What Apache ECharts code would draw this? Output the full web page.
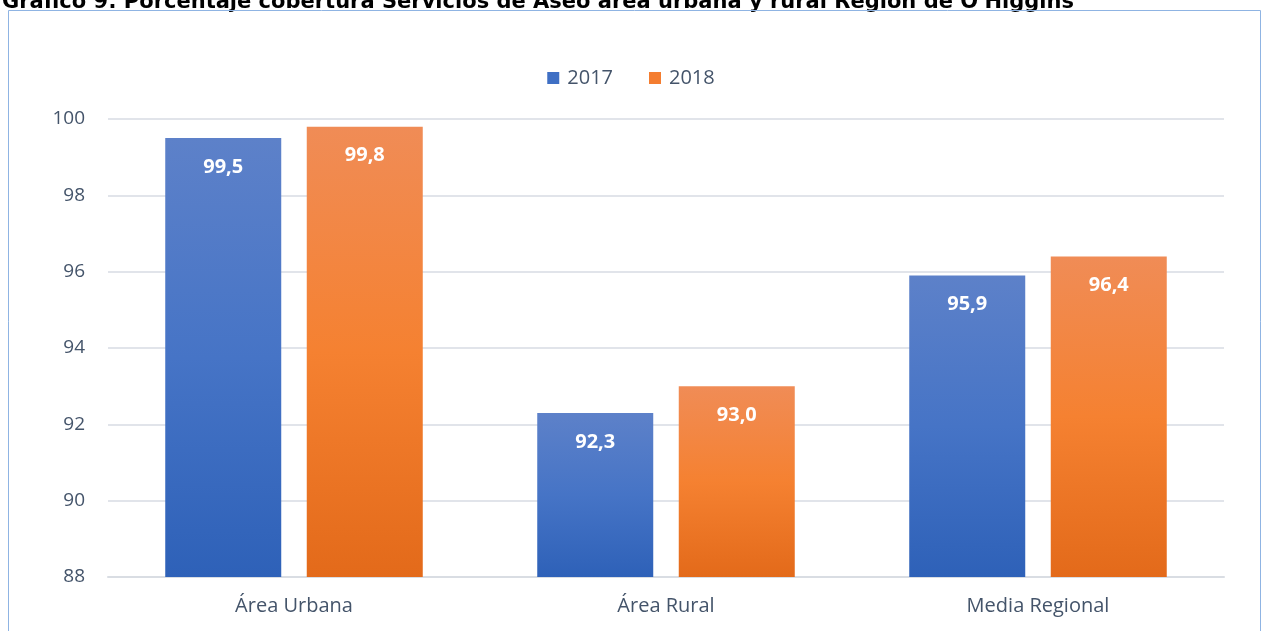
<!DOCTYPE html>
<html>
<head>
<meta charset="utf-8">
<script src="https://cdn.jsdelivr.net/npm/echarts@6/dist/echarts.min.js"></script>
<style>
  html, body { margin: 0; padding: 0; background: #fff; }
  #main { width: 1262px; height: 631px; }
</style>
</head>
<body>
<div id="main"></div>
<script>
    var categories = ['Área Urbana', 'Área Rural', 'Media Regional'];
    var values2017 = [99.5, 92.3, 95.9];
    var values2018 = [99.8, 93.0, 96.4];
    var yTicks = [88, 90, 92, 94, 96, 98, 100];

    var fontMain = '"Open Sans", "Noto Sans", sans-serif';

    function grad(top, mid, bottom) {
        return new echarts.graphic.LinearGradient(0, 0, 0, 1, [
            { offset: 0, color: top },
            { offset: 0.5, color: mid },
            { offset: 1, color: bottom }
        ]);
    }

    // etiquetas con coma decimal
    var labelStyle = {
        show: true,
        position: 'insideTop',
        distance: 19,
        color: '#fff',
        fontWeight: 'bold',
        fontSize: 20,
        fontFamily: fontMain,
        formatter: function (p) { return p.value.toFixed(1).replace('.', ','); }
    };

    var option = {
        animation: false,
        backgroundColor: '#fff',
        title: {
            text: "Gráfico 9: Porcentaje cobertura Servicios de Aseo área urbana y rural Región de O'Higgins",
            left: -3,
            top: -13,
            textStyle: {
                fontFamily: '"DejaVu Sans", Verdana, sans-serif',
                fontWeight: 'bold',
                fontSize: 21,
                color: '#000'
            }
        },
        graphic: [{
            type: 'rect',
            shape: { x: 8.5, y: 10.5, width: 1252, height: 640 },
            style: { fill: 'none', stroke: '#8fb4e3', lineWidth: 1 },
            z: 100
        }],
        legend: {
            top: 63,
            left: 'center',
            itemWidth: 12,
            itemHeight: 12,
            itemGap: 36,
            icon: 'rect',
            textStyle: { fontSize: 20, color: '#44546a', fontFamily: fontMain, padding: [0, 0, 0, 3] },
            data: [
                { name: '2017', itemStyle: { color: '#3f6fc4' } },
                { name: '2018', itemStyle: { color: '#f47d30' } }
            ]
        },
        grid: { left: 108, right: 38, top: 119, bottom: 54 },
        xAxis: {
            type: 'category',
            data: categories,
            axisLine: { lineStyle: { color: '#d9dde3', width: 2 } },
            axisTick: { show: false },
            axisLabel: { fontSize: 20, color: '#44546a', fontFamily: fontMain, margin: 19 }
        },
        yAxis: {
            type: 'value',
            min: yTicks[0],
            max: yTicks[yTicks.length - 1],
            interval: 2,
            axisLine: { show: false },
            axisTick: { show: false },
            splitLine: { lineStyle: { color: '#e1e4ea', width: 2 } },
            axisLabel: { fontSize: 19, color: '#44546a', fontFamily: fontMain, margin: 23 }
        },
        series: [
            {
                name: '2017',
                type: 'bar',
                data: values2017,
                barWidth: 116,
                barGap: '22%',
                itemStyle: { color: grad('#5d81c9', '#4674c6', '#2e61b8') },
                label: labelStyle
            },
            {
                name: '2018',
                type: 'bar',
                data: values2018,
                barWidth: 116,
                itemStyle: { color: grad('#f08c56', '#f58131', '#e36a1a') },
                label: labelStyle
            }
        ]
    };

    var myChart = echarts.init(document.getElementById('main'));
    myChart.setOption(option);
</script>
</body>
</html>
